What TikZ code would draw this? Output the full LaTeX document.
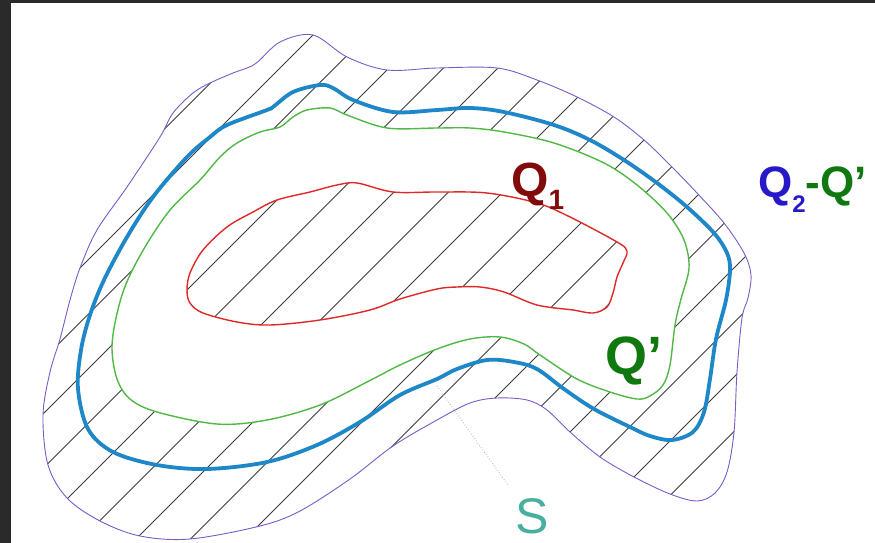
\documentclass[tikz,border=0pt]{standalone}
\usepackage{fontspec}
\setmainfont{Liberation Sans}
\definecolor{framedark}{RGB}{42,42,42}
\definecolor{spurple}{RGB}{120,92,200}
\definecolor{qblueline}{RGB}{30,135,200}
\definecolor{qgreenline}{RGB}{80,185,70}
\definecolor{qredline}{RGB}{225,40,40}
\definecolor{hatchgray}{RGB}{60,60,60}
\definecolor{qonecol}{RGB}{130,10,10}
\definecolor{qtwocol}{RGB}{40,25,200}
\definecolor{qprimecol}{RGB}{15,120,15}
\definecolor{steal}{RGB}{70,175,160}
\definecolor{dotgray}{RGB}{170,180,185}
\tikzset{
  hatchline/.style={draw=hatchgray, line width=0.8pt},
  souter/.style={draw=spurple, line width=0.9pt},
  qtwoline/.style={draw=qblueline, line width=3.8pt},
  qprimeline/.style={draw=qgreenline, line width=1.4pt},
  qoneline/.style={draw=qredline, line width=1.4pt},
  lbl/.style={inner sep=0pt, anchor=base west},
}
\def\purplepath{plot[smooth cycle, tension=0.55] coordinates {
(313,35) (347,57) (387,70) (437,68) (497,68) (537,80) (577,97) (614,117) (644,140) (670,165) (697,193) (724,223) (744,253) (751,275) (748,298) (742,318) (737,372) (734,432) (727,472) (715,493) (697,501) (670,494) (634,477) (600,457) (570,432) (547,410) (527,400) (497,398) (470,403) (437,420) (393,446) (350,479) (300,511) (260,526) (190,539) (140,536) (100,521) (67,498) (48,465) (43,415) (50,372) (60,339) (70,300) (80,268) (97,230) (127,187) (160,137) (173,113) (193,93) (210,83) (233,73) (255,64) (280,42)}}
\def\bluepath{plot[smooth cycle, tension=0.55] coordinates {
(320,85) (333,88) (353,100) (393,112) (437,110) (470,108) (504,112) (554,125) (590,140) (624,160) (657,183) (687,207) (714,233) (727,253) (730,270) (726,300) (716,339) (710,379) (704,412) (693,432) (672,440) (650,436) (630,427) (594,409) (564,389) (537,369) (514,362) (487,360) (457,369) (437,379) (400,395) (360,422) (317,445) (267,462) (207,469) (157,465) (113,452) (88,429) (78,389) (81,350) (90,315) (104,280) (127,237) (153,197) (187,157) (210,137) (227,125) (267,110) (273,107) (293,92)}}
\def\greenpath{plot[smooth cycle, tension=0.55] coordinates {
(307,110) (330,108) (347,115) (387,128) (437,128) (470,128) (504,132) (554,143) (604,163) (637,185) (667,213) (684,240) (689,268) (681,299) (675,325) (670,365) (663,385) (650,396) (637,399) (610,392) (577,379) (540,355) (524,344) (500,337) (470,339) (437,349) (400,365) (367,382) (320,405) (267,420) (217,424) (157,412) (130,399) (117,379) (112,349) (116,318) (126,284) (145,247) (170,210) (200,180) (220,157) (237,143) (260,132) (280,127) (293,117)}}
\def\redpath{plot[smooth cycle, tension=0.55] coordinates {
(187,290) (190,273) (203,250) (227,227) (253,212) (277,200) (310,192) (337,185) (357,183) (393,192) (437,192) (487,193) (537,203) (570,217) (617,242) (627,251) (623,263) (617,277) (613,293) (607,307) (593,313) (573,310) (537,305) (504,292) (480,287) (457,287) (437,289) (400,299) (370,310) (320,320) (270,325) (237,322) (203,313) (190,303)}}
\begin{document}
\begin{tikzpicture}[x=1pt, y=-1pt]
\useasboundingbox (0,0) rectangle (875,543);
\fill[white] (0,0) rectangle (875,543);
\fill[framedark] (0,0) rectangle (875,3);
\fill[framedark] (0,0) rectangle (11,543);
% outer hatching (Q2 - Q')
\begin{scope}
  \clip \purplepath;
  \foreach \k in {0,...,25} {\draw[hatchline] ({21+54.5*\k},0) -- ++(-700,700);}
\end{scope}
\fill[white] \greenpath;
% inner hatching (Q1)
\begin{scope}
  \clip \redpath;
  \foreach \k in {6,...,18} {\draw[hatchline] ({41+54.5*\k},0) -- ++(-700,700);}
\end{scope}
% outlines
\draw[souter] \purplepath;
\draw[qtwoline] \bluepath;
\draw[qprimeline] \greenpath;
\draw[qoneline] \redpath;
% dotted pointer to S
\coordinate (sa) at (437,386);
\coordinate (sb) at (508,485);
\draw[dotgray, line width=0.8pt, dotted] (sa) -- (sb);
% labels
\node[lbl, text=qonecol, font=\bfseries\fontsize{48}{48}\selectfont] (qone) at (511,196) {Q\raisebox{-13pt}{\fontsize{28}{28}\selectfont 1}};
\node[lbl, font=\bfseries\fontsize{44}{44}\selectfont] (qtwo) at (758,197) {\textcolor{qtwocol}{Q\raisebox{-15pt}{\fontsize{24}{24}\selectfont 2}}\textcolor{qprimecol}{-Q’}};
\node[lbl, text=qprimecol, font=\bfseries\fontsize{54}{54}\selectfont] (qprime) at (605,374) {Q’};
\node[lbl, text=steal, font=\fontsize{50}{50}\selectfont] (slabel) at (515,533) {S};
\end{tikzpicture}
\end{document}
